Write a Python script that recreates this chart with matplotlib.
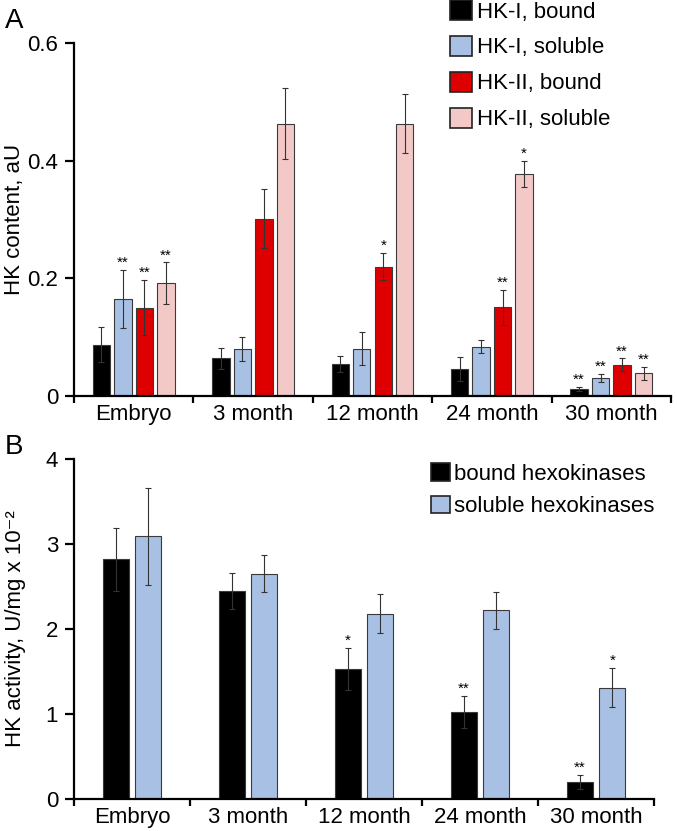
import numpy as np
import matplotlib
matplotlib.use("Agg")
import matplotlib.pyplot as plt
from matplotlib.patches import Patch

plt.rcParams['font.family'] = ['Liberation Sans', 'DejaVu Sans']

groups = ['Embryo', '3 month', '12 month', '24 month', '30 month']

# panel A: HK content, aU
hk1_bound = [0.087, 0.064, 0.054, 0.046, 0.012]
hk1_bound_err = [0.030, 0.018, 0.014, 0.021, 0.004]
hk1_sol = [0.165, 0.080, 0.080, 0.084, 0.031]
hk1_sol_err = [0.050, 0.020, 0.028, 0.011, 0.007]
hk2_bound = [0.150, 0.301, 0.220, 0.151, 0.053]
hk2_bound_err = [0.047, 0.050, 0.023, 0.030, 0.011]
hk2_sol = [0.192, 0.463, 0.463, 0.378, 0.039]
hk2_sol_err = [0.035, 0.060, 0.050, 0.022, 0.011]
stars_a = [
    ['', '', '', '', '**'],
    ['**', '', '', '', '**'],
    ['**', '', '*', '**', '**'],
    ['**', '', '', '*', '**'],
]

# panel B: HK activity, U/mg x 10^-2
bound_act = [2.82, 2.45, 1.53, 1.02, 0.20]
bound_act_err = [0.37, 0.21, 0.25, 0.19, 0.08]
sol_act = [3.09, 2.65, 2.18, 2.22, 1.31]
sol_act_err = [0.57, 0.22, 0.23, 0.22, 0.23]
stars_b = [
    ['', '', '*', '**', '**'],
    ['', '', '', '', '*'],
]

black = '#000000'
blue = '#a7c0e3'
red = '#de0000'
pink = '#f3c9c8'
edge = '#3a3a3a'

W, H = 677, 831
fig = plt.figure(figsize=(W / 100, H / 100), dpi=100)


def style_axis(ax, ymax, yticks, ytick_labels):
    x = np.arange(len(groups))
    ax.set_xlim(-0.5, len(groups) - 0.5)
    ax.set_ylim(0, ymax)
    for s in ['top', 'right']:
        ax.spines[s].set_visible(False)
    for s in ['left', 'bottom']:
        ax.spines[s].set_linewidth(1.6)
    ax.set_xticks(np.arange(len(groups) + 1) - 0.5)
    ax.set_xticklabels([])
    ax.set_xticks(x, minor=True)
    ax.set_xticklabels(groups, minor=True)
    ax.tick_params(axis='x', which='major', direction='out', length=5, width=1.6)
    ax.tick_params(axis='x', which='minor', length=0, pad=6, labelsize=16)
    ax.set_yticks(yticks)
    ax.set_yticklabels(ytick_labels)
    ax.tick_params(axis='y', direction='out', length=6.5, width=1.6, labelsize=16, pad=5)


def draw_bars(ax, series, errs, colors, stars, width, step, star_size):
    x = np.arange(len(groups))
    n = len(series)
    for i, (vals, err, col, st) in enumerate(zip(series, errs, colors, stars)):
        pos = x + (i - (n - 1) / 2) * step
        ax.bar(pos, vals, width, color=col, edgecolor=edge, linewidth=0.8, zorder=2)
        ax.errorbar(pos, vals, yerr=err, fmt='none', ecolor='#333333',
                    elinewidth=0.8, capsize=2, capthick=0.8, zorder=3)
        for p, v, e, s in zip(pos, vals, err, st):
            if s:
                ax.annotate(s, (p, v + e), xytext=(0, 0), textcoords='offset points',
                            ha='center', va='bottom', fontsize=star_size)


# ---- panel A
axA = fig.add_axes([74 / W, 1 - 396 / H, 597 / W, 353 / H])
draw_bars(axA, [hk1_bound, hk1_sol, hk2_bound, hk2_sol],
          [hk1_bound_err, hk1_sol_err, hk2_bound_err, hk2_sol_err],
          [black, blue, red, pink], stars_a, 0.146, 0.18, 11)
style_axis(axA, 0.6, [0, 0.2, 0.4, 0.6], ['0', '0.2', '0.4', '0.6'])
axA.set_ylabel('HK content, aU', fontsize=16)
axA.yaxis.set_label_coords((25 - 74) / 597, 0.5)

handles_a = [Patch(facecolor=c, edgecolor='#222222', linewidth=1.2) for c in [black, blue, red, pink]]
fig.legend(handles_a, ['HK-I, bound', 'HK-I, soluble', 'HK-II, bound', 'HK-II, soluble'],
           loc='upper left', bbox_to_anchor=(450 / W, 1.0), frameon=False, fontsize=16,
           handlelength=1.0, handleheight=1.0, handletextpad=0.2, labelspacing=0.6,
           borderpad=0, borderaxespad=0)

# ---- panel B
axB = fig.add_axes([74 / W, 1 - 799 / H, 580 / W, 340 / H])
draw_bars(axB, [bound_act, sol_act], [bound_act_err, sol_act_err],
          [black, blue], stars_b, 0.22, 0.28, 11)
style_axis(axB, 4, [0, 1, 2, 3, 4], ['0', '1', '2', '3', '4'])
axB.set_ylabel('HK activity, U/mg x 10\u207b\u00b2', fontsize=16)
axB.yaxis.set_label_coords((26 - 74) / 580, 0.5)

handles_b = [Patch(facecolor=c, edgecolor='#222222', linewidth=1.2) for c in [black, blue]]
fig.legend(handles_b, ['bound hexokinases', 'soluble hexokinases'],
           loc='upper left', bbox_to_anchor=(431 / W, 1 - 463 / H), frameon=False, fontsize=16,
           handlelength=0.85, handleheight=0.85, handletextpad=0.2, labelspacing=0.5,
           borderpad=0, borderaxespad=0)

fig.text(5 / W, 1 - 8 / H, 'A', fontsize=20, va='top', ha='left')
fig.text(5 / W, 1 - 434 / H, 'B', fontsize=20, va='top', ha='left')

fig.savefig('out.png', dpi=100)
